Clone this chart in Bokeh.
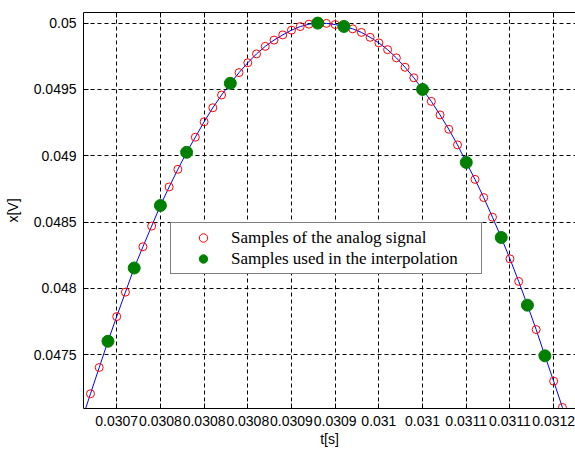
from bokeh.plotting import figure
from bokeh.models import (Range1d, FixedTicker, CustomJSTickFormatter, LinearAxis,
                          Legend, LegendItem, CustomLabelingPolicy)
from bokeh.embed import file_html
from bokeh.resources import INLINE

# ---- data ----
t_analog = [0.03067, 0.03068, 0.03069, 0.03070, 0.03071, 0.03072, 0.03073, 0.03074,
            0.03075, 0.03076, 0.03077, 0.03078, 0.03079, 0.03080, 0.03081, 0.03082,
            0.03083, 0.03084, 0.03085, 0.03086, 0.03087, 0.03088, 0.03089, 0.03090,
            0.03091, 0.03092, 0.03093, 0.03094, 0.03095, 0.03096, 0.03097, 0.03098,
            0.03099, 0.03100, 0.03101, 0.03102, 0.03103, 0.03104, 0.03105, 0.03106,
            0.03107, 0.03108, 0.03109, 0.03110, 0.03111, 0.03112, 0.03113, 0.03114,
            0.03115, 0.03116, 0.03117, 0.03118, 0.03119, 0.03120, 0.03121]
x_analog = [0.047206, 0.047404, 0.047602, 0.047788, 0.047972, 0.048154, 0.048314, 0.048470,
            0.048625, 0.048765, 0.048898, 0.049026, 0.049140, 0.049256, 0.049362, 0.049458,
            0.049546, 0.049627, 0.049701, 0.049768, 0.049825, 0.049872, 0.049911, 0.049947,
            0.049974, 0.049992, 0.050000, 0.049998, 0.049989, 0.049975, 0.049957, 0.049930,
            0.049893, 0.049851, 0.049800, 0.049738, 0.049667, 0.049588, 0.049500, 0.049410,
            0.049308, 0.049200, 0.049082, 0.048950, 0.048822, 0.048685, 0.048537, 0.048384,
            0.048223, 0.048053, 0.047874, 0.047690, 0.047492, 0.047301, 0.047103]

t_interp = [0.03069, 0.03072, 0.03075, 0.03078, 0.03083, 0.03093,
            0.03096, 0.03105, 0.03110, 0.03114, 0.03117, 0.03119]
x_interp = [0.047602, 0.048154, 0.048625, 0.049026, 0.049546, 0.050000,
            0.049975, 0.049500, 0.048950, 0.048384, 0.047874, 0.047492]

# continuous signal (runs past the first/last sample, off the frame)
t_curve = [0.03066] + t_analog + [0.03122]
x_curve = [0.047006] + x_analog + [0.046903]

x_ticks = [0.03070, 0.03075, 0.03080, 0.03085, 0.03090, 0.03095,
           0.03100, 0.03105, 0.03110, 0.03115, 0.03120]
x_tick_labels = ["0.0307", "0.0308", "0.0308", "0.0308", "0.0309", "0.0309",
                 "0.031", "0.031", "0.0311", "0.0311", "0.0312"]
y_ticks = [0.0475, 0.0480, 0.0485, 0.0490, 0.0495, 0.0500]
y_tick_labels = ["0.0475", "0.048", "0.0485", "0.049", "0.0495", "0.05"]

label_analog = "Samples of the analog signal"
label_interp = "Samples used in the interpolation"

FONT = "Liberation Sans"

p = figure(width=575, height=449,
           x_range=Range1d(0.030662, 0.031225),
           y_range=Range1d(0.047095, 0.05008),
           output_backend="svg", toolbar_location=None,
           min_border_left=83, min_border_right=0,
           min_border_top=12, min_border_bottom=41)
p.outline_line_color = None
p.background_fill_color = "white"
p.border_fill_color = "white"

fmt_code = """
let best = 0, d = Infinity;
for (let i = 0; i < tvals.length; i++) {
  const e = Math.abs(tvals[i] - tick);
  if (e < d) { d = e; best = i; }
}
return tlabels[best];
"""
x_ticker = FixedTicker(ticks=x_ticks)
y_ticker = FixedTicker(ticks=y_ticks)


def style_axis(ax):
    ax.axis_line_color = "black"
    ax.axis_line_width = 1
    ax.major_tick_in = 5
    ax.major_tick_out = 0
    ax.major_tick_line_color = "black"
    ax.minor_tick_in = 0
    ax.minor_tick_out = 0
    ax.minor_tick_line_color = None
    ax.major_label_text_font = FONT
    ax.major_label_text_font_size = "14px"
    ax.major_label_text_color = "black"
    ax.axis_label_text_font = FONT
    ax.axis_label_text_font_size = "14px"
    ax.axis_label_text_font_style = "normal"
    ax.axis_label_text_color = "black"


xa = p.xaxis[0]
xa.ticker = x_ticker
xa.formatter = CustomJSTickFormatter(args=dict(tvals=x_ticks, tlabels=x_tick_labels), code=fmt_code)
style_axis(xa)
xa.major_label_standoff = 7
xa.axis_label = "t[s]"
xa.axis_label_standoff = 2

ya = p.yaxis[0]
ya.ticker = y_ticker
ya.formatter = CustomJSTickFormatter(args=dict(tvals=y_ticks, tlabels=y_tick_labels), code=fmt_code)
style_axis(ya)
ya.major_label_standoff = 7
ya.axis_label = "x[V]"
ya.axis_label_standoff = 10

top = LinearAxis(ticker=x_ticker)
style_axis(top)
top.major_label_policy = CustomLabelingPolicy(
    code="const all = [...indices]; for (const i of all) indices.unset(i);")
top.major_label_text_font_size = "1px"
top.major_label_standoff = 0
p.add_layout(top, "above")

for g, tk in ((p.xgrid[0], x_ticker), (p.ygrid[0], y_ticker)):
    g.ticker = tk
    g.grid_line_color = "black"
    g.grid_line_dash = "4 3"
    g.grid_line_width = 1
    g.grid_line_alpha = 1

p.line(t_curve, x_curve, line_color="#0000FF", line_width=1)
r_red = p.scatter(t_analog, x_analog, marker="circle", size=8, fill_color=None,
                  line_color="#FF0000", line_width=1)
r_green = p.scatter(t_interp, x_interp, marker="circle", size=12,
                    fill_color="#008000", line_color="#008000", line_width=1)

legend = Legend(items=[LegendItem(label=label_analog, renderers=[r_red]),
                       LegendItem(label=label_interp, renderers=[r_green])],
                location=(87, 134))
legend.border_line_color = "black"
legend.border_line_width = 1
legend.background_fill_color = "white"
legend.background_fill_alpha = 1
legend.label_text_font = "Liberation Serif"
legend.label_text_font_size = "17px"
legend.label_text_color = "black"
legend.label_height = 21
legend.glyph_height = 21
legend.glyph_width = 56
legend.label_standoff = 0
legend.label_width = 246
legend.spacing = 0
legend.padding = 4
legend.margin = 0
p.add_layout(legend)

open("out.html", "w").write(file_html(p, INLINE))
